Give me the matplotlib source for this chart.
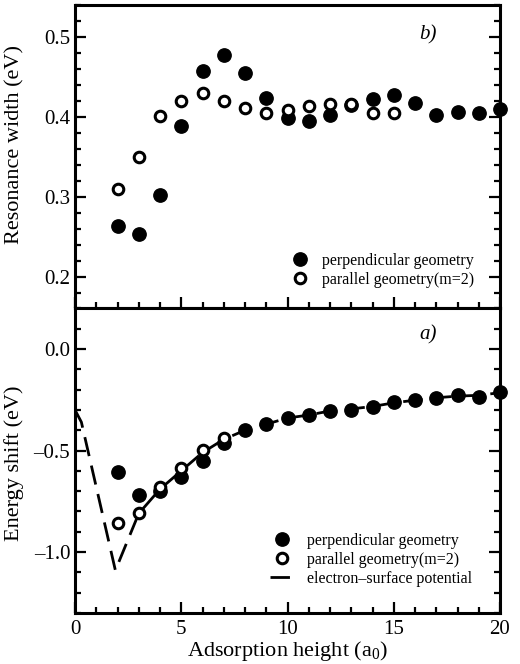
import matplotlib
matplotlib.use("Agg")
import matplotlib.pyplot as plt
from matplotlib.ticker import MultipleLocator

plt.rcParams['font.family'] = ['Liberation Serif', 'DejaVu Serif']
plt.rcParams['mathtext.fontset'] = 'custom'
plt.rcParams['mathtext.rm'] = 'Liberation Serif'
plt.rcParams['mathtext.it'] = 'Liberation Serif:italic'

# ---- data: top panel (b) resonance width ----
width_perp_x = [2, 3, 4, 5, 6, 7, 8, 9, 10, 11, 12, 13, 14, 15, 16, 17, 18, 19, 20]
width_perp_y = [0.264, 0.253, 0.302, 0.389, 0.457, 0.4775, 0.455, 0.424, 0.399, 0.395,
                0.4025, 0.415, 0.4225, 0.4275, 0.418, 0.403, 0.406, 0.405, 0.4095]
width_par_x = [2, 3, 4, 5, 6, 7, 8, 9, 10, 11, 12, 13, 14, 15]
width_par_y = [0.310, 0.350, 0.401, 0.420, 0.430, 0.420, 0.411, 0.4045, 0.409, 0.414,
               0.416, 0.416, 0.4045, 0.4045]

# ---- data: bottom panel (a) energy shift ----
shift_perp_x = [2, 3, 4, 5, 6, 7, 8, 9, 10, 11, 12, 13, 14, 15, 16, 17, 18, 19, 20]
shift_perp_y = [-0.607, -0.719, -0.698, -0.629, -0.550, -0.462, -0.401, -0.371, -0.338,
                -0.327, -0.305, -0.299, -0.286, -0.261, -0.249, -0.239, -0.228, -0.236, -0.211]
shift_par_x = [2, 3, 4, 5, 6, 7]
shift_par_y = [-0.855, -0.810, -0.680, -0.588, -0.497, -0.437]
pot_x = [0, 0.3, 1.9, 3, 4, 5, 6, 7, 8, 9, 10, 11, 12, 13, 14, 15, 16, 17, 18, 19, 20]
pot_y = [-0.30, -0.36, -1.09, -0.81, -0.69, -0.60, -0.51, -0.445, -0.40, -0.37, -0.34,
         -0.325, -0.305, -0.295, -0.283, -0.265, -0.252, -0.24, -0.232, -0.228, -0.215]

W, H = 520, 664
fig = plt.figure(figsize=(W / 100, H / 100), dpi=100)
left, right = 75 / W, 500 / W
ax_b = fig.add_axes([left, 1 - 308 / H, right - left, (308 - 5) / H])
ax_a = fig.add_axes([left, 1 - 613 / H, right - left, (613 - 308) / H], sharex=ax_b)

ms = 9.6
ms_open = 7.6
mew = 2.2

for ax in (ax_a, ax_b):
    for s in ax.spines.values():
        s.set_linewidth(2.2)
    ax.xaxis.set_major_locator(MultipleLocator(5))
    ax.xaxis.set_minor_locator(MultipleLocator(1))
    ax.tick_params(which='both', direction='in', top=False, right=True, width=1.6,
                   labelsize=15)
    ax.tick_params(which='major', length=8)
    ax.tick_params(which='minor', length=4)

# top panel
ax_b.plot(width_perp_x, width_perp_y, 'o', color='black', ms=ms, ls='none',
          label='perpendicular geometry', clip_on=False, zorder=3)
ax_b.plot(width_par_x, width_par_y, 'o', mfc='white', mec='black', mew=mew, ms=ms_open,
          ls='none', label='parallel geometry(m=2)', clip_on=False, zorder=4)
ax_b.set_xlim(0, 20)
ax_b.set_ylim(0.161, 0.54)
ax_b.yaxis.set_minor_locator(MultipleLocator(0.02))
ax_b.set_yticks([0.2, 0.3, 0.4, 0.5])
ax_b.set_yticklabels(['0.2', '0.3', '0.4', '0.5'])
ax_b.tick_params(labelbottom=False)
ax_b.set_ylabel('Resonance width (eV)', fontsize=16)
ax_b.yaxis.set_label_coords(-0.12, 0.541)
ax_b.text(0.81, 0.90, 'b)', transform=ax_b.transAxes, fontsize=15, style='italic',
          va='center')
ax_b.legend(loc='lower left', bbox_to_anchor=(0.511, 0.066), frameon=False, fontsize=11.5,
            handlelength=1.0, handletextpad=0.875, labelspacing=0.2, borderpad=0,
            borderaxespad=0)

# bottom panel
ax_a.plot(pot_x, pot_y, color='black', lw=2.0, dashes=(7, 3.5),
          label='electron\u2013surface potential', zorder=2)
ax_a.plot(shift_perp_x, shift_perp_y, 'o', color='black', ms=ms, ls='none',
          label='perpendicular geometry', clip_on=False, zorder=3)
ax_a.plot(shift_par_x, shift_par_y, 'o', mfc='white', mec='black', mew=mew, ms=ms_open,
          ls='none', label='parallel geometry(m=2)', zorder=4)
ax_a.set_xlim(0, 20)
ax_a.set_ylim(-1.30, 0.202)
ax_a.yaxis.set_minor_locator(MultipleLocator(0.1))
ax_a.set_yticks([-1.0, -0.5, 0.0])
ax_a.set_yticklabels(['\u20131.0', '\u20130.5', '0.0'])
ax_a.set_xticks([0, 5, 10, 15, 20])
ax_a.set_xticklabels(['0', '5', '10', '15', '20'])
ax_a.tick_params(axis='x', pad=5)
ax_a.set_ylabel('Energy shift (eV)', fontsize=16)
ax_a.yaxis.set_label_coords(-0.12, 0.49)
ax_a.set_xlabel('Adsorption height (a$_0$)', fontsize=16, labelpad=0)
ax_a.text(0.81, 0.911, 'a)', transform=ax_a.transAxes, fontsize=15, style='italic',
          va='center')
handles, labels = ax_a.get_legend_handles_labels()
order = [1, 2, 0]
ax_a.legend([handles[i] for i in order], [labels[i] for i in order],
            loc='lower left', bbox_to_anchor=(0.459, 0.085), frameon=False, fontsize=11.5,
            handlelength=1.45, handletextpad=0.875, labelspacing=0.2, borderpad=0,
            borderaxespad=0)

fig.savefig('out.png', dpi=100)
